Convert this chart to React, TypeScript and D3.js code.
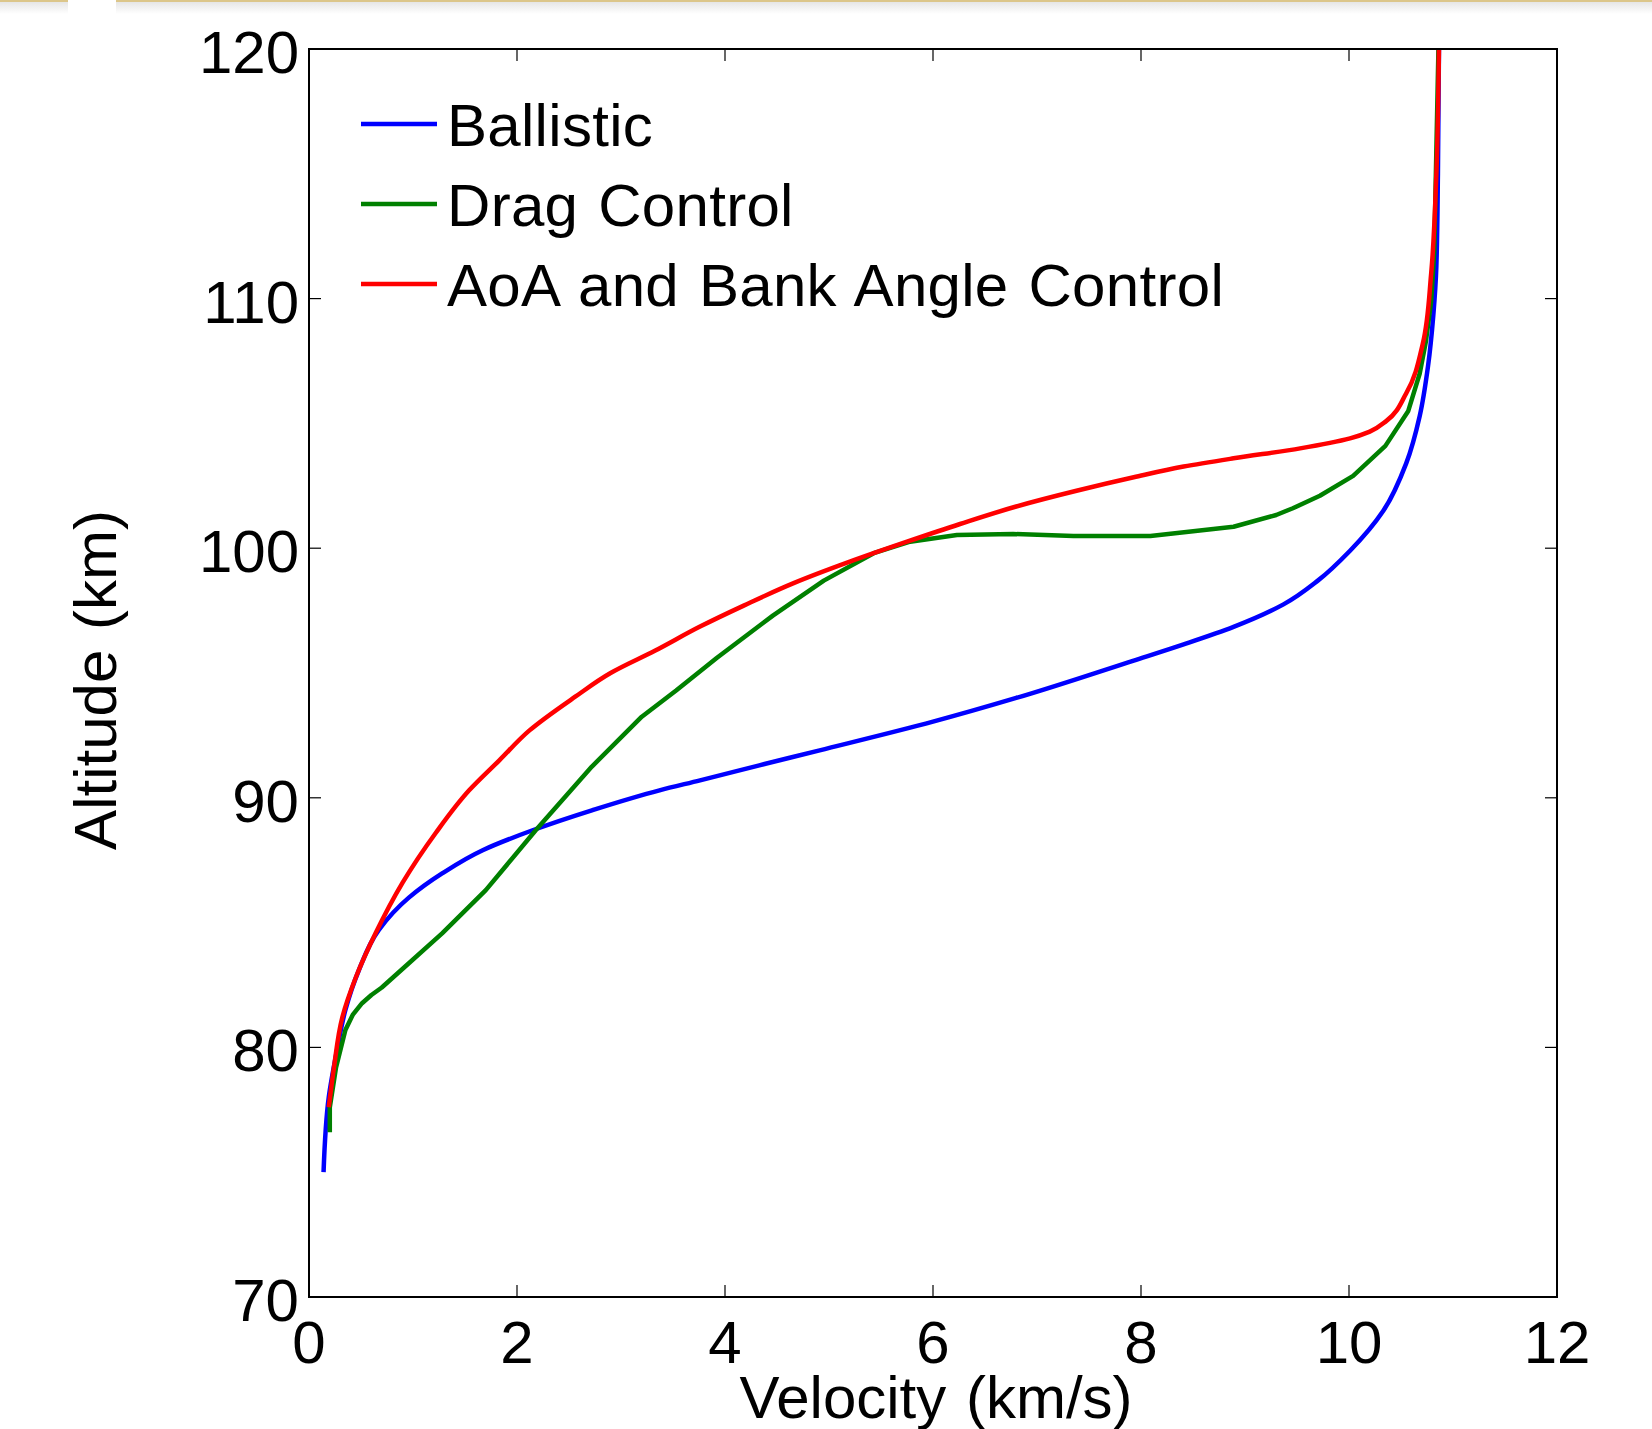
import { useEffect, useRef } from 'react';
import * as d3 from 'd3';

// [velocity km/s, altitude km]
const ballistic: [number, number][] = [
  [0.14, 75.0], [0.19, 78.0], [0.27, 79.9], [0.35, 81.5], [0.48, 83.1], [0.67, 84.7],
  [0.96, 86.0], [1.28, 86.97], [1.67, 87.9], [2.15, 88.7], [2.72, 89.5], [3.37, 90.3],
  [3.76, 90.7], [4.33, 91.3], [4.91, 91.9], [6.0, 93.05], [6.8, 94.0], [7.93, 95.5],
  [8.41, 96.15], [8.89, 96.85], [9.37, 97.75], [9.7, 98.7], [10.01, 99.9], [10.33, 101.5],
  [10.55, 103.4], [10.68, 105.3], [10.76, 107.3], [10.81, 109.3], [10.84, 111.3], [10.855, 115],
  [10.865, 120],
];

const dragControl: [number, number][] = [
  [0.2, 76.6], [0.2, 77.6], [0.26, 79.2], [0.35, 80.7], [0.42, 81.3], [0.51, 81.77],
  [0.6, 82.1], [0.7, 82.4], [0.96, 83.37], [1.28, 84.57], [1.7, 86.3], [2.18, 88.7],
  [2.72, 91.25], [3.2, 93.25], [3.53, 94.3], [3.92, 95.6], [4.46, 97.3], [4.95, 98.7],
  [5.43, 99.8], [5.78, 100.26], [6.23, 100.53], [6.77, 100.57], [7.35, 100.49], [8.09, 100.49],
  [8.89, 100.86], [9.3, 101.33], [9.46, 101.6], [9.72, 102.1], [10.04, 102.9], [10.35, 104.1],
  [10.57, 105.5], [10.68, 107.0], [10.74, 108.3], [10.79, 109.9], [10.82, 111.9], [10.86, 120],
];

const aoaBank: [number, number][] = [
  [0.19, 77.6], [0.24, 79.2], [0.32, 81.2], [0.45, 82.8], [0.64, 84.57], [0.9, 86.6],
  [1.22, 88.6], [1.54, 90.3], [1.83, 91.5], [2.12, 92.7], [2.56, 94.05], [2.9, 95.0],
  [3.33, 95.9], [3.76, 96.86], [4.18, 97.7], [4.66, 98.6], [5.2, 99.46], [5.75, 100.26],
  [6.26, 100.97], [6.8, 101.67], [7.38, 102.3], [7.93, 102.84], [8.41, 103.27], [8.89, 103.6],
  [9.53, 104.0], [10.01, 104.4], [10.2, 104.67], [10.36, 105.1], [10.55, 106.2], [10.71, 108.2],
  [10.79, 111.0], [10.84, 115], [10.865, 120],
];

const seriesNames = ['Ballistic', 'Drag Control', 'AoA and Bank Angle Control'];
const seriesColors = ['#0000ff', '#008000', '#ff0000'];
const xTicks = [0, 2, 4, 6, 8, 10, 12];
const yTicks = [70, 80, 90, 100, 110, 120];

const W = 1652;
const H = 1429;
const FONT = 'Liberation Sans, Arial, Helvetica, sans-serif';

const App = () => {
  const svgRef = useRef<SVGSVGElement>(null);

  useEffect(() => {
    if (!svgRef.current) return;
    const svg = d3.select(svgRef.current);
    svg.selectAll('*').remove();

    const left = 309, right = 1557, top = 49, bottom = 1297;
    const x = d3.scaleLinear().domain([0, 12]).range([left, right]);
    const y = d3.scaleLinear().domain([70, 120]).range([bottom, top]);

    // browser chrome strip at the very top
    const defs = svg.append('defs');
    const grad = defs.append('linearGradient').attr('id', 'shade').attr('x1', 0).attr('y1', 0).attr('x2', 0).attr('y2', 1);
    grad.append('stop').attr('offset', '0%').attr('stop-color', '#e6e6e6');
    grad.append('stop').attr('offset', '100%').attr('stop-color', '#ffffff');
    svg.append('rect').attr('x', 0).attr('y', 2).attr('width', 68).attr('height', 12).attr('fill', 'url(#shade)');
    svg.append('rect').attr('x', 116).attr('y', 2).attr('width', W - 116).attr('height', 12).attr('fill', 'url(#shade)');
    svg.append('rect').attr('x', 0).attr('y', 0).attr('width', 68).attr('height', 2).attr('fill', '#dcc68a');
    svg.append('rect').attr('x', 116).attr('y', 0).attr('width', W - 116).attr('height', 2).attr('fill', '#dcc68a');

    // lines
    const data = [ballistic, dragControl, aoaBank];
    data.forEach((pts, i) => {
      const line = d3.line<[number, number]>()
        .x(d => x(d[0]))
        .y(d => y(d[1]))
        .curve(i === 1 ? d3.curveLinear : d3.curveMonotoneY);
      svg.append('path')
        .attr('d', line(pts) as string)
        .attr('fill', 'none')
        .attr('stroke', seriesColors[i])
        .attr('stroke-width', 4.5)
        .attr('stroke-linejoin', 'round');
    });

    // box
    svg.append('rect')
      .attr('x', left).attr('y', top)
      .attr('width', right - left).attr('height', bottom - top)
      .attr('fill', 'none').attr('stroke', '#000').attr('stroke-width', 2);

    const tickLen = 12;
    const tg = svg.append('g').attr('stroke', '#000').attr('stroke-width', 1.2);
    xTicks.forEach(t => {
      tg.append('line').attr('x1', x(t)).attr('x2', x(t)).attr('y1', bottom).attr('y2', bottom - tickLen);
      tg.append('line').attr('x1', x(t)).attr('x2', x(t)).attr('y1', top).attr('y2', top + tickLen);
    });
    yTicks.forEach(t => {
      tg.append('line').attr('x1', left).attr('x2', left + tickLen).attr('y1', y(t)).attr('y2', y(t));
      tg.append('line').attr('x1', right).attr('x2', right - tickLen).attr('y1', y(t)).attr('y2', y(t));
    });

    svg.append('g').selectAll('text').data(xTicks).enter().append('text')
      .attr('x', d => x(d)).attr('y', bottom + 66)
      .attr('text-anchor', 'middle')
      .attr('font-family', FONT).attr('font-size', 60)
      .text(d => d);

    svg.append('g').selectAll('text').data(yTicks).enter().append('text')
      .attr('x', left - 10).attr('y', d => y(d) + 24)
      .attr('text-anchor', 'end')
      .attr('font-family', FONT).attr('font-size', 60)
      .text(d => d);

    svg.append('text')
      .attr('x', (left + right) / 2 + 3).attr('y', 1418)
      .attr('text-anchor', 'middle')
      .attr('font-family', FONT).attr('font-size', 60)
      .attr('word-spacing', 3)
      .text('Velocity (km/s)');

    svg.append('text')
      .attr('transform', 'translate(116,680) rotate(-90)')
      .attr('text-anchor', 'middle')
      .attr('font-family', FONT).attr('font-size', 60)
      .attr('word-spacing', 3)
      .text('Altitude (km)');

    // legend
    const lg = svg.append('g');
    seriesNames.forEach((name, i) => {
      const ly = 124 + i * 80;
      lg.append('line')
        .attr('x1', 361).attr('x2', 437).attr('y1', ly).attr('y2', ly)
        .attr('stroke', seriesColors[i]).attr('stroke-width', 4.5);
      lg.append('text')
        .attr('x', 447).attr('y', ly + 22)
        .attr('font-family', FONT).attr('font-size', 60)
        .attr('word-spacing', 3)
        .attr('letter-spacing', 0.3)
        .text(name);
    });
  }, []);

  return (
    <svg
      ref={svgRef}
      width={W}
      height={H}
      style={{ position: 'absolute', left: 0, top: 0, background: '#fff' }}
    />
  );
};

export default App;
